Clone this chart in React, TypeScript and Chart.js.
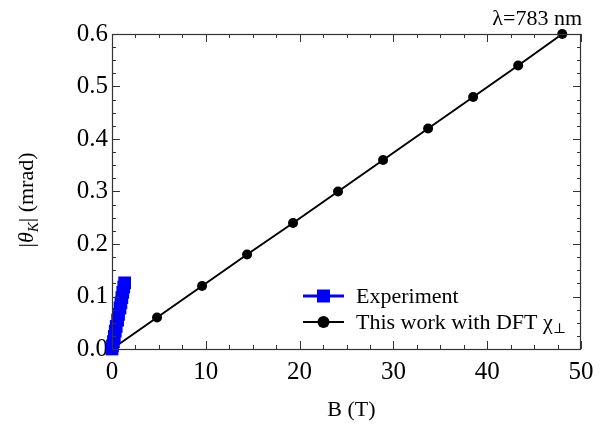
import React, { useEffect, useRef } from "react";
import { Chart, registerables } from "chart.js";

Chart.register(...registerables);

// Kerr rotation vs. magnetic field
const fieldExp = [0.0, 0.05, 0.15, 0.25, 0.35, 0.45, 0.6, 0.7, 0.85, 0.95, 1.05, 1.15, 1.25, 1.35];
const kerrExp = [0.0, 0.006, 0.014, 0.024, 0.034, 0.043, 0.055, 0.066, 0.078, 0.088, 0.098, 0.108, 0.118, 0.126];

const fieldDFT = [0.0, 4.8, 9.6, 14.4, 19.3, 24.1, 28.9, 33.7, 38.5, 43.3, 48.0];
const kerrDFT = [0.0, 0.06, 0.12, 0.18, 0.24, 0.3, 0.36, 0.42, 0.48, 0.54, 0.6];

const xMajorTicks = [0, 10, 20, 30, 40, 50];
const xMinorStep = 2.5;
const yMajorTicks = [0.0, 0.1, 0.2, 0.3, 0.4, 0.5, 0.6];
const yMinorStep = 0.025;

const seriesNames = ["Experiment", "This work with DFT "];
const wavelengthLabel = "λ=783 nm";
const xTitle = "B (T)";

const SERIF = "'Liberation Serif', 'Times New Roman', 'DejaVu Serif', serif";
const BLUE = "#0000ff";

const framePlugin = {
  id: "frameAndText",
  afterDatasetsDraw(chart: any) {
    const { ctx, chartArea: a, scales } = chart;
    const xs = scales.x;
    const ys = scales.y;
    ctx.save();
    ctx.strokeStyle = "#333";
    ctx.lineWidth = 1.2;
    ctx.strokeRect(a.left + 0.5, a.top + 0.5, a.right - a.left - 1, a.bottom - a.top);

    const major = 8;
    const minor = 4;
    ctx.lineWidth = 1;
    ctx.beginPath();
    const xMin = xs.min, xMax = xs.max;
    for (let k = 0; xMin + k * xMinorStep <= xMax + 1e-9; k++) {
      const v = xMin + k * xMinorStep;
      const isMajor = xMajorTicks.some((t) => Math.abs(t - v) < 1e-9);
      const len = isMajor ? major : minor;
      const px = Math.round(xs.getPixelForValue(v)) + 0.5;
      ctx.moveTo(px, a.bottom);
      ctx.lineTo(px, a.bottom - len);
      ctx.moveTo(px, a.top);
      ctx.lineTo(px, a.top + len);
    }
    const yMin = ys.min, yMax = ys.max;
    for (let k = 0; yMin + k * yMinorStep <= yMax + 1e-9; k++) {
      const v = yMin + k * yMinorStep;
      const isMajor = yMajorTicks.some((t) => Math.abs(t - v) < 1e-9);
      const len = isMajor ? major : minor;
      const py = Math.round(ys.getPixelForValue(v)) + 0.5;
      ctx.moveTo(a.left, py);
      ctx.lineTo(a.left + len, py);
      ctx.moveTo(a.right, py);
      ctx.lineTo(a.right - len, py);
    }
    ctx.stroke();

    // wavelength label, top right
    ctx.fillStyle = "#000";
    ctx.font = `22px ${SERIF}`;
    ctx.textAlign = "right";
    ctx.textBaseline = "alphabetic";
    ctx.fillText(wavelengthLabel, a.right + 1, 25);

    // x-axis title
    ctx.textAlign = "center";
    ctx.fillText(xTitle, (a.left + a.right) / 2 + 5, 416);

    // y-axis title |θ_K| (mrad), rotated
    ctx.save();
    ctx.translate(33, 200);
    ctx.rotate(-Math.PI / 2);
    const parts = [
      { t: "|", f: `22px ${SERIF}`, dy: 0 },
      { t: "θ", f: `italic 22px ${SERIF}`, dy: 0 },
      { t: "K", f: `italic 15px ${SERIF}`, dy: 5 },
      { t: "| (mrad)", f: `22px ${SERIF}`, dy: 0 },
    ];
    let total = 0;
    for (const p of parts) {
      ctx.font = p.f;
      total += ctx.measureText(p.t).width;
    }
    let x = -total / 2;
    ctx.textAlign = "left";
    for (const p of parts) {
      ctx.font = p.f;
      ctx.fillText(p.t, x, p.dy);
      x += ctx.measureText(p.t).width;
    }
    ctx.restore();

    // legend
    const lx0 = 303, lx1 = 344, tx = 356;
    const rows = [296, 322];
    ctx.strokeStyle = BLUE;
    ctx.lineWidth = 3;
    ctx.beginPath();
    ctx.moveTo(lx0, rows[0]);
    ctx.lineTo(lx1, rows[0]);
    ctx.stroke();
    ctx.fillStyle = BLUE;
    ctx.fillRect((lx0 + lx1) / 2 - 6.5, rows[0] - 6.5, 13, 13);
    ctx.strokeStyle = "#000";
    ctx.lineWidth = 2;
    ctx.beginPath();
    ctx.moveTo(lx0, rows[1]);
    ctx.lineTo(lx1, rows[1]);
    ctx.stroke();
    ctx.fillStyle = "#000";
    ctx.beginPath();
    ctx.arc((lx0 + lx1) / 2, rows[1], 6, 0, Math.PI * 2);
    ctx.fill();

    ctx.textAlign = "left";
    ctx.textBaseline = "alphabetic";
    ctx.font = `22px ${SERIF}`;
    ctx.fillText(seriesNames[0], tx, rows[0] + 7);
    ctx.fillText(seriesNames[1], tx, rows[1] + 7);
    let cx = tx + ctx.measureText(seriesNames[1]).width;
    ctx.fillText("χ", cx, rows[1] + 7);
    cx += ctx.measureText("χ").width;
    ctx.font = `14px ${SERIF}`;
    ctx.fillText("⊥", cx, rows[1] + 11);

    ctx.restore();
  },
};

export default function App() {
  const canvasRef = useRef<HTMLCanvasElement | null>(null);

  useEffect(() => {
    const canvas = canvasRef.current;
    if (!canvas) return;
    let chart: Chart | null = null;
    let cancelled = false;
    const build = () => {
      if (cancelled) return;
      chart = new Chart(canvas, {
        type: "line",
        data: {
          datasets: [
            {
              label: seriesNames[0],
              data: fieldExp.map((x, i) => ({ x, y: kerrExp[i] })),
              borderColor: BLUE,
              backgroundColor: BLUE,
              borderWidth: 3,
              pointStyle: "rect",
              pointRadius: 9,
              pointBorderWidth: 0,
              pointBackgroundColor: BLUE,
              clip: false,
            },
            {
              label: seriesNames[1],
              data: fieldDFT.map((x, i) => ({ x, y: kerrDFT[i] })),
              borderColor: "#000",
              backgroundColor: "#000",
              borderWidth: 2,
              pointStyle: "circle",
              pointRadius: 5,
              pointBorderWidth: 0,
              pointBackgroundColor: "#000",
              clip: false,
            },
          ],
        },
        options: {
          responsive: false,
          animation: false,
          devicePixelRatio: 1,
          layout: { padding: { left: 0, top: 34, right: 30, bottom: 0 } },
          plugins: {
            legend: { display: false },
            tooltip: { enabled: false },
            title: { display: false },
          },
          scales: {
            x: {
              type: "linear",
              min: 0,
              max: 50,
              afterFit: (s: any) => {
                s.height = 80;
              },
              afterBuildTicks: (s: any) => {
                s.ticks = xMajorTicks.map((v) => ({ value: v }));
              },
              grid: { display: false, drawTicks: false },
              border: { display: false },
              ticks: {
                padding: 8,
                color: "#000",
                font: { family: SERIF, size: 25 },
                maxRotation: 0,
                callback: (v: any) => String(v),
              },
            },
            y: {
              type: "linear",
              min: 0,
              max: 0.6,
              afterFit: (s: any) => {
                s.width = 112;
              },
              afterBuildTicks: (s: any) => {
                s.ticks = yMajorTicks.map((v) => ({ value: v }));
              },
              grid: { display: false, drawTicks: false },
              border: { display: false },
              ticks: {
                padding: 4,
                color: "#000",
                font: { family: SERIF, size: 25 },
                callback: (v: any) => Number(v).toFixed(1),
              },
            },
          },
        },
        plugins: [framePlugin],
      });
    };
    const fonts = (document as any).fonts;
    if (fonts && fonts.load) {
      Promise.all([
        fonts.load("25px 'Liberation Serif'"),
        fonts.load("italic 22px 'Liberation Serif'"),
      ])
        .catch(() => null)
        .then(build);
    } else {
      build();
    }
    return () => {
      cancelled = true;
      if (chart) chart.destroy();
    };
  }, []);

  return (
    <div
      style={{
        position: "fixed",
        left: 0,
        top: 0,
        width: 611,
        height: 429,
        background: "#fff",
      }}
    >
      <canvas ref={canvasRef} width={611} height={429} />
    </div>
  );
}
